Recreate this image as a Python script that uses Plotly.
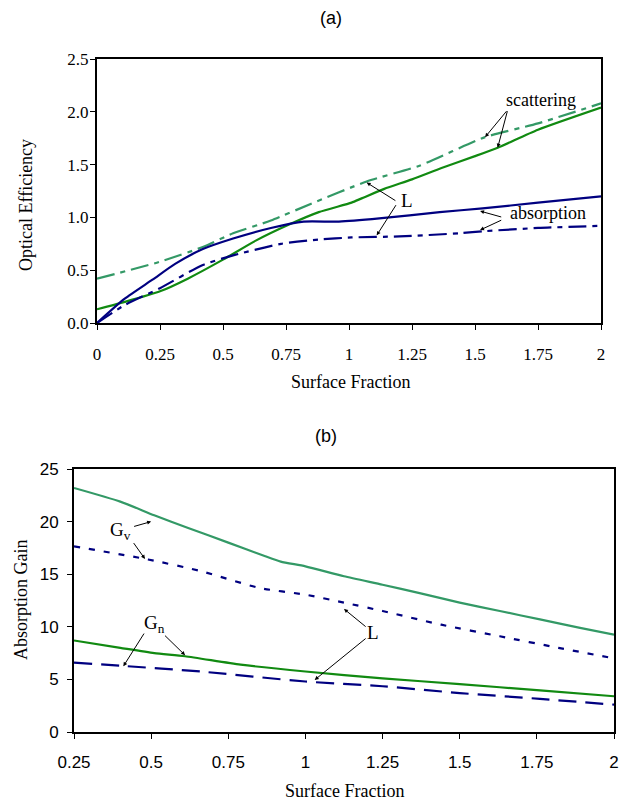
import plotly.graph_objects as go

# ---- panel (a): optical efficiency vs surface fraction ----
a_scat_dd_x = [0, 0.25, 0.42, 0.54, 0.69, 0.85, 1.07, 1.28, 1.54, 1.75, 2.0]
a_scat_dd_y = [0.42, 0.58, 0.72, 0.85, 0.97, 1.13, 1.34, 1.49, 1.76, 1.89, 2.08]

a_scat_x = [0, 0.11, 0.25, 0.36, 0.50, 0.63, 0.76, 0.88, 1.01, 1.05, 1.14, 1.25, 1.37, 1.50, 1.59, 1.75, 2.0]
a_scat_y = [0.13, 0.20, 0.30, 0.42, 0.60, 0.78, 0.93, 1.05, 1.14, 1.18, 1.27, 1.36, 1.47, 1.58, 1.66, 1.83, 2.04]

a_abs_x = [0, 0.11, 0.22, 0.31, 0.42, 0.54, 0.69, 0.82, 0.96, 1.12, 1.36, 1.53, 1.75, 2.0]
a_abs_y = [0.0, 0.23, 0.41, 0.56, 0.70, 0.80, 0.90, 0.96, 0.96, 0.99, 1.05, 1.085, 1.14, 1.20]

a_abs_dd_x = [0, 0.11, 0.25, 0.42, 0.54, 0.73, 0.88, 1.01, 1.2, 1.44, 1.54, 1.75, 2.0]
a_abs_dd_y = [0.0, 0.17, 0.33, 0.55, 0.64, 0.75, 0.79, 0.81, 0.82, 0.85, 0.87, 0.90, 0.92]

a_xticks = [0, 0.25, 0.5, 0.75, 1, 1.25, 1.5, 1.75, 2]
a_yticks = [0.0, 0.5, 1.0, 1.5, 2.0, 2.5]

# ---- panel (b): absorption gain vs surface fraction ----
b_gv_x = [0.25, 0.40, 0.51, 0.62, 0.75, 0.87, 0.92, 1.0, 1.125, 1.25, 1.37, 1.5, 1.63, 1.76, 1.89, 2.0]
b_gv_y = [23.2, 21.9, 20.6, 19.4, 18.0, 16.7, 16.2, 15.75, 14.8, 14.0, 13.2, 12.3, 11.5, 10.7, 9.9, 9.25]

b_lv_x = [0.25, 0.49, 0.66, 0.85, 1.0, 1.125, 1.25, 1.44, 1.63, 1.82, 2.0]
b_lv_y = [17.65, 16.4, 15.3, 13.7, 13.05, 12.3, 11.5, 10.2, 9.1, 8.0, 7.0]

b_gn_x = [0.25, 0.40, 0.51, 0.61, 0.79, 1.0, 1.25, 1.5, 1.76, 2.0]
b_gn_y = [8.7, 8.0, 7.5, 7.2, 6.4, 5.75, 5.1, 4.55, 3.95, 3.4]

b_ln_x = [0.25, 0.40, 0.66, 1.0, 1.25, 1.5, 1.76, 2.0]
b_ln_y = [6.6, 6.3, 5.75, 4.8, 4.35, 3.7, 3.15, 2.6]

b_xticks = [0.25, 0.5, 0.75, 1, 1.25, 1.5, 1.75, 2]
b_yticks = [0, 5, 10, 15, 20, 25]

TEAL = "#339966"
GREEN = "#118a11"
NAVY = "#000080"
SERIF = "Liberation Serif"
SANS = "Liberation Sans"

W, H, PAD = 627, 800, 8  # page body adds ~8px offset


def px(p):
    return (p - PAD) / W


def py(p):
    return 1 - (p - PAD) / H


fig = go.Figure()


def line(x, y, color, dash, xa, ya):
    fig.add_trace(go.Scatter(x=x, y=y, mode="lines", xaxis=xa, yaxis=ya,
                             line=dict(color=color, width=2.2, dash=dash,
                                       shape="spline", smoothing=0.6),
                             showlegend=False, hoverinfo="skip"))


line(a_scat_dd_x, a_scat_dd_y, TEAL, "18px,6px,5px,6px", "x", "y")
line(a_scat_x, a_scat_y, GREEN, "solid", "x", "y")
line(a_abs_x, a_abs_y, NAVY, "solid", "x", "y")
line(a_abs_dd_x, a_abs_dd_y, NAVY, "18px,6px,5px,6px", "x", "y")

line(b_gv_x, b_gv_y, TEAL, "solid", "x2", "y2")
line(b_lv_x, b_lv_y, NAVY, "6px,9px", "x2", "y2")
line(b_gn_x, b_gn_y, GREEN, "solid", "x2", "y2")
line(b_ln_x, b_ln_y, NAVY, "18px,9px", "x2", "y2")

frame = dict(showline=True, linecolor="black", linewidth=2, mirror=True,
             showgrid=False, zeroline=False, ticks="outside", ticklen=5,
             tickcolor="black", automargin=False, ticklabeloverflow="allow")
serif_ticks = dict(family=SERIF, size=17, color="black")
sans_ticks = dict(family=SANS, size=17, color="black")

fig.update_layout(
    width=W, height=H, margin=dict(l=0, r=0, t=0, b=0),
    paper_bgcolor="white", plot_bgcolor="white",
    xaxis=dict(domain=[px(97), px(601)], anchor="y", range=[0, 2],
               tickvals=a_xticks, tickfont=serif_ticks, ticklabelstandoff=10, **frame),
    yaxis=dict(domain=[py(323), py(59)], anchor="x", range=[0, 2.5],
               tickvals=a_yticks, tickformat=".1f", tickfont=serif_ticks,
               ticklabelstandoff=-2, **frame),
    xaxis2=dict(domain=[px(74), px(614)], anchor="y2", range=[0.25, 2],
                tickvals=b_xticks, tickfont=sans_ticks, ticklabelstandoff=9, **frame),
    yaxis2=dict(domain=[py(732), py(469)], anchor="x2", range=[0, 25],
                tickvals=b_yticks, tickfont=sans_ticks, ticklabelstandoff=5, **frame),
)


def label(text, x, y, xr, yr, size=18, family=SERIF, angle=0):
    fig.add_annotation(text=text, x=x, y=y, xref=xr, yref=yr, showarrow=False,
                       xanchor="center", yanchor="middle", textangle=angle,
                       font=dict(family=family, size=size, color="black"))


def arrow(x, y, ax, ay, xr, yr):
    fig.add_annotation(text="", x=x, y=y, ax=ax, ay=ay, xref=xr, yref=yr,
                       axref=xr, ayref=yr, showarrow=True, arrowhead=2,
                       arrowsize=0.8, arrowwidth=1, arrowcolor="black")


# panel titles and axis titles
label("(a)", px(331), py(18), "paper", "paper", family=SANS)
label("(b)", px(326), py(436), "paper", "paper", family=SANS)
label("Surface Fraction", px(350), py(382), "paper", "paper")
label("Optical Efficiency", px(26), py(205), "paper", "paper", angle=-90)
label("Surface Fraction", px(344), py(791), "paper", "paper")
label("Absorption Gain", px(21), py(600), "paper", "paper", angle=-90)

# panel (a) callouts
label("scattering", 1.76, 2.11, "x", "y")
arrow(1.54, 1.76, 1.63, 2.02, "x", "y")
arrow(1.59, 1.66, 1.63, 2.02, "x", "y")
label("L", 1.23, 1.16, "x", "y", size=19)
arrow(1.07, 1.33, 1.19, 1.15, "x", "y")
arrow(1.11, 0.83, 1.19, 1.13, "x", "y")
label("absorption", 1.79, 1.04, "x", "y")
arrow(1.52, 1.06, 1.61, 1.0, "x", "y")
arrow(1.52, 0.88, 1.61, 0.98, "x", "y")

# panel (b) callouts
label("G<sub>v</sub>", 0.40, 19.1, "x2", "y2", size=19)
arrow(0.50, 20.0, 0.44, 19.5, "x2", "y2")
arrow(0.48, 16.45, 0.44, 18.1, "x2", "y2")
label("G<sub>n</sub>", 0.51, 10.3, "x2", "y2", size=19)
arrow(0.41, 6.25, 0.48, 9.5, "x2", "y2")
arrow(0.61, 7.3, 0.54, 9.3, "x2", "y2")
label("L", 1.22, 9.5, "x2", "y2", size=19)
arrow(1.125, 11.7, 1.2, 9.9, "x2", "y2")
arrow(1.03, 4.95, 1.2, 9.0, "x2", "y2")

fig.write_html("out.html")
